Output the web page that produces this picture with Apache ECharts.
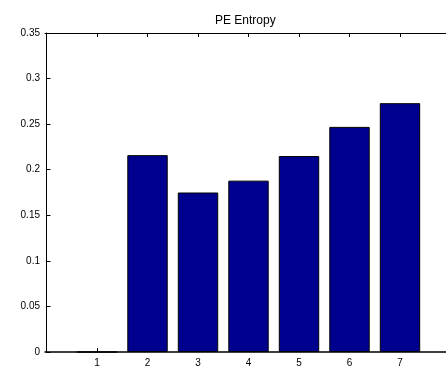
<!DOCTYPE html>
<html>
<head>
<meta charset="utf-8">
<script src="https://cdn.jsdelivr.net/npm/echarts@6/dist/echarts.min.js"></script>
<style>
  html, body { margin: 0; padding: 0; background: #fff; }
  #chart { width: 446px; height: 367px; }
</style>
</head>
<body>
<div id="chart"></div>
<script>
// PE entropy per group
const categories = [1, 2, 3, 4, 5, 6, 7];
const entropyValues = [0, 0.216, 0.175, 0.188, 0.215, 0.247, 0.273];
const yTicks = [0, 0.05, 0.1, 0.15, 0.2, 0.25, 0.3, 0.35];

const font = '"Liberation Sans", Arial, sans-serif';
const chart = echarts.init(document.getElementById('chart'), null, { renderer: 'canvas' });

const barData = categories.map((c, i) => [c, entropyValues[i]]);

// x range starts a hair below 0 so group 1 sits one full slot in from the y axis
const xMin = -0.03;
const xMax = 8;

chart.setOption({
  animation: false,
  backgroundColor: '#ffffff',
  title: {
    text: 'PE Entropy',
    left: 215,
    top: 15,
    padding: 0,
    textStyle: { fontFamily: font, fontSize: 12, fontWeight: 'normal', color: '#000' }
  },
  // the axes box runs slightly past the right edge of the canvas
  grid: { left: 45, top: 33, width: 405.5, height: 319, containLabel: false, outerBoundsMode: 'none' },
  xAxis: [
    {
      type: 'value',
      min: xMin,
      max: xMax,
      position: 'bottom',
      splitLine: { show: false },
      axisLine: { show: true, lineStyle: { color: '#000', width: 1.5 } },
      axisTick: { show: true, inside: true, length: 4, customValues: categories, lineStyle: { color: '#000' } },
      axisLabel: {
        margin: 6,
        fontFamily: font,
        fontSize: 10,
        color: '#000',
        customValues: categories,
        formatter: v => String(v)
      }
    },
    {
      type: 'value',
      min: xMin,
      max: xMax,
      position: 'top',
      splitLine: { show: false },
      axisLine: { show: true, onZero: false, lineStyle: { color: '#000', width: 1 } },
      axisTick: { show: true, inside: true, length: 4, customValues: categories, lineStyle: { color: '#000' } },
      axisLabel: { show: false }
    }
  ],
  yAxis: {
    type: 'value',
    min: yTicks[0],
    max: yTicks[yTicks.length - 1],
    interval: 0.05,
    splitLine: { show: false },
    axisLine: { show: true, lineStyle: { color: '#000', width: 1 } },
    axisTick: { show: true, inside: true, length: 4, lineStyle: { color: '#000' } },
    axisLabel: {
      margin: 5,
      fontFamily: font,
      fontSize: 10,
      color: '#000',
      formatter: v => String(parseFloat(v.toFixed(2)))
    }
  },
  series: [{
    type: 'bar',
    xAxisIndex: 0,
    data: barData,
    barWidth: 40.4,
    itemStyle: { color: '#00008F', borderColor: '#000', borderWidth: 1 }
  }]
});
</script>
</body>
</html>
